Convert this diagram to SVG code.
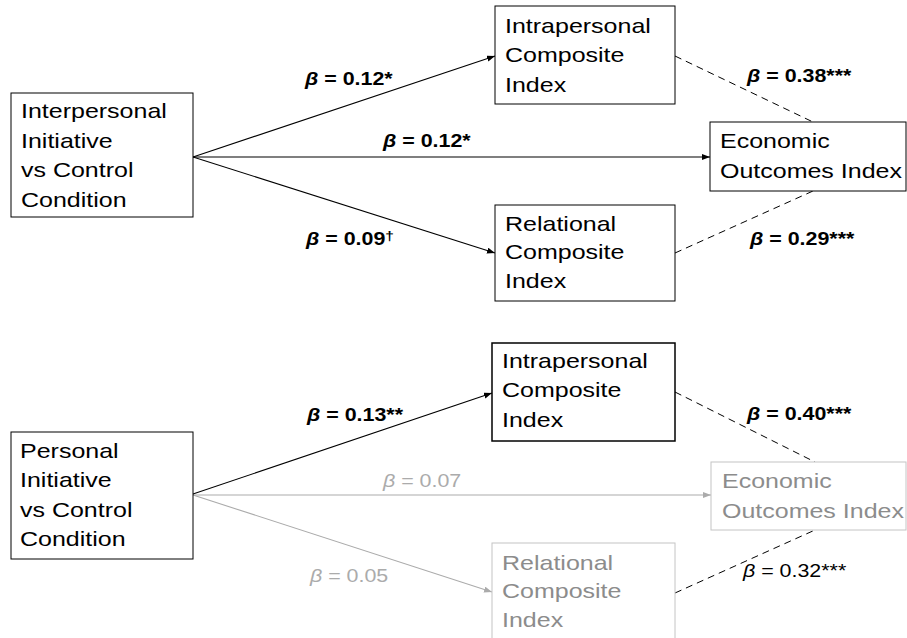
<svg xmlns="http://www.w3.org/2000/svg" width="907" height="638" viewBox="0 0 907 638">
  <style>
    .box { fill: #fff; stroke: #000; stroke-width: 1; }
    .box-thick { fill: #fff; stroke: #000; stroke-width: 1.5; }
    .box-grey { fill: #fff; stroke: #c4c4c4; stroke-width: 1; }
    .node-text { font-family: "Liberation Sans", Arial, sans-serif; font-size: 21px; fill: #000; }
    .node-text-grey { font-family: "Liberation Sans", Arial, sans-serif; font-size: 21px; fill: #8c8c8c; }
    .lbl { font-family: "Liberation Sans", Arial, sans-serif; font-size: 18px; fill: #000; }
    .lbl-b { font-family: "Liberation Sans", Arial, sans-serif; font-size: 18px; font-weight: bold; fill: #000; }
    .lbl-grey { font-family: "Liberation Sans", Arial, sans-serif; font-size: 18px; fill: #ababab; }
    .beta { font-style: italic; }
    .sup { font-size: 13px; }
    .path { fill: none; stroke: #000; stroke-width: 1.1; }
    .path-grey { fill: none; stroke: #ababab; stroke-width: 1.1; }
    .dash { fill: none; stroke: #000; stroke-width: 1; stroke-dasharray: 7 5; }
  </style>
  <defs>
    <marker id="arrow" markerUnits="userSpaceOnUse" markerWidth="9" markerHeight="7" refX="8" refY="3" orient="auto">
      <path d="M0,0 L8,3 L0,6 z" fill="#000"/>
    </marker>
    <marker id="arrow-grey" markerUnits="userSpaceOnUse" markerWidth="9" markerHeight="7" refX="8" refY="3" orient="auto">
      <path d="M0,0 L8,3 L0,6 z" fill="#ababab"/>
    </marker>
  </defs>

  <!-- connectors -->
  <g id="connectors">
    <!-- upper model -->
    <path class="path" d="M193,157 L495,56" marker-end="url(#arrow)"/>
    <path class="path" d="M193,157 L710,157" marker-end="url(#arrow)"/>
    <path class="path" d="M193,157 L495,253" marker-end="url(#arrow)"/>
    <path class="dash" d="M675,56 L813,122"/>
    <path class="dash" d="M675,253 L813,191"/>
    <!-- lower model -->
    <path class="path-grey" d="M193,495 L711,495" marker-end="url(#arrow-grey)"/>
    <path class="path-grey" d="M193,495 L492,592" marker-end="url(#arrow-grey)"/>
    <path class="path" d="M193,494 L492,393" marker-end="url(#arrow)"/>
    <path class="dash" d="M675,392 L815,462"/>
    <path class="dash" d="M675,593 L815,530"/>
  </g>

  <!-- upper model nodes -->
  <g id="top-interpersonal">
    <rect class="box" x="11" y="93" width="182" height="124"/>
    <text class="node-text" transform="matrix(1.19 0 0 1 21 118)">
      <tspan x="0" y="0">Interpersonal</tspan>
      <tspan x="0" dy="29.7">Initiative</tspan>
      <tspan x="0" dy="29.7">vs Control</tspan>
      <tspan x="0" dy="29.7">Condition</tspan>
    </text>
  </g>
  <g id="top-intrapersonal">
    <rect class="box" x="495" y="6" width="180" height="98"/>
    <text class="node-text" transform="matrix(1.19 0 0 1 505 33)">
      <tspan x="0" y="0">Intrapersonal</tspan>
      <tspan x="0" dy="29.5">Composite</tspan>
      <tspan x="0" dy="29.5">Index</tspan>
    </text>
  </g>
  <g id="top-economic">
    <rect class="box" x="710" y="122" width="196" height="69"/>
    <text class="node-text" transform="matrix(1.19 0 0 1 720 148)">
      <tspan x="0" y="0">Economic</tspan>
      <tspan x="0" dy="30">Outcomes Index</tspan>
    </text>
  </g>
  <g id="top-relational">
    <rect class="box" x="495" y="205" width="180" height="96"/>
    <text class="node-text" transform="matrix(1.19 0 0 1 505 231)">
      <tspan x="0" y="0">Relational</tspan>
      <tspan x="0" dy="28.5">Composite</tspan>
      <tspan x="0" dy="28.5">Index</tspan>
    </text>
  </g>

  <!-- lower model nodes -->
  <g id="bottom-personal">
    <rect class="box" x="11" y="432" width="182" height="127"/>
    <text class="node-text" transform="matrix(1.19 0 0 1 20 458)">
      <tspan x="0" y="0">Personal</tspan>
      <tspan x="0" dy="29.3">Initiative</tspan>
      <tspan x="0" dy="29.3">vs Control</tspan>
      <tspan x="0" dy="29.3">Condition</tspan>
    </text>
  </g>
  <g id="bottom-intrapersonal">
    <rect class="box-thick" x="492" y="343" width="183" height="98"/>
    <text class="node-text" transform="matrix(1.19 0 0 1 502 368)">
      <tspan x="0" y="0">Intrapersonal</tspan>
      <tspan x="0" dy="29.5">Composite</tspan>
      <tspan x="0" dy="29.5">Index</tspan>
    </text>
  </g>
  <g id="bottom-economic">
    <rect class="box-grey" x="711" y="462" width="195" height="68"/>
    <text class="node-text-grey" transform="matrix(1.19 0 0 1 722 488)">
      <tspan x="0" y="0">Economic</tspan>
      <tspan x="0" dy="30">Outcomes Index</tspan>
    </text>
  </g>
  <g id="bottom-relational">
    <rect class="box-grey" x="492" y="543" width="183" height="110"/>
    <text class="node-text-grey" transform="matrix(1.19 0 0 1 502 570)">
      <tspan x="0" y="0">Relational</tspan>
      <tspan x="0" dy="28.5">Composite</tspan>
      <tspan x="0" dy="28.5">Index</tspan>
    </text>
  </g>

  <!-- path coefficients -->
  <g id="labels">
    <text class="lbl-b" transform="matrix(1.19 0 0 1 305 85)"><tspan class="beta">β</tspan> = 0.12*</text>
    <text class="lbl-b" transform="matrix(1.19 0 0 1 383 147)"><tspan class="beta">β</tspan> = 0.12*</text>
    <text class="lbl-b" transform="matrix(1.19 0 0 1 306 245)"><tspan class="beta">β</tspan> = 0.09<tspan class="sup" dy="-5">†</tspan></text>
    <text class="lbl-b" transform="matrix(1.19 0 0 1 747 82)"><tspan class="beta">β</tspan> = 0.38***</text>
    <text class="lbl-b" transform="matrix(1.19 0 0 1 750 245)"><tspan class="beta">β</tspan> = 0.29***</text>

    <text class="lbl-b" transform="matrix(1.19 0 0 1 307 421)"><tspan class="beta">β</tspan> = 0.13**</text>
    <text class="lbl-grey" transform="matrix(1.19 0 0 1 383 487)"><tspan class="beta">β</tspan> = 0.07</text>
    <text class="lbl-grey" transform="matrix(1.19 0 0 1 310 582)"><tspan class="beta">β</tspan> = 0.05</text>
    <text class="lbl-b" transform="matrix(1.19 0 0 1 747 420)"><tspan class="beta">β</tspan> = 0.40***</text>
    <text class="lbl" transform="matrix(1.19 0 0 1 743 577)"><tspan class="beta">β</tspan> = 0.32***</text>
  </g>
</svg>
